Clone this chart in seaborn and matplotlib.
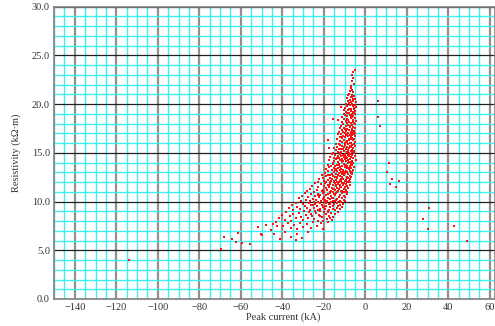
import matplotlib
matplotlib.use("Agg")
import matplotlib.pyplot as plt
from matplotlib.ticker import MultipleLocator, FormatStrFormatter
import seaborn as sns
import pandas as pd

# (peak current kA, resistivity kOhm·m)
cluster_top = [(-5.2,23.5),(-5.8,23.3),(-6.3,23.0),(-6.0,22.7),(-6.6,22.4),(-5.5,22.1),(-7.0,21.9),(-6.8,21.7),(-6.2,21.5),(-7.4,21.3),(-5.9,21.2),(-7.8,21.0),
    (-6.5,20.95),(-8.2,20.9),(-5.3,20.8),(-7.1,20.75),(-9.0,20.6),(-6.0,20.55),(-4.8,20.5),(-7.6,20.45),(-8.5,20.35),(-5.7,20.3),(-6.9,20.25),(-4.6,20.2),(-8.0,20.15),(-9.4,20.05),(-6.3,20.0),
    (-5.1,19.95),(-7.3,19.9),(-8.8,19.85),(-6.1,19.8),(-11.6,19.75),(-4.7,19.7),(-9.6,19.6),(-7.9,19.55),(-5.6,19.5),(-6.7,19.45),(-8.4,19.4),(-10.1,19.35),(-4.9,19.3),(-7.0,19.25),(-9.1,19.2),(-6.0,19.15),(-5.3,19.1),(-8.0,19.05),(-10.5,19.02),(-6.5,19.0),
    (-4.8,18.95),(-7.5,18.9),(-9.8,18.85),(-5.9,18.8),(-8.6,18.75),(-11.0,18.7),(-6.4,18.65),(-5.2,18.6),(-7.1,18.55),(-10.3,18.5),(-15.6,18.45),(-13.2,18.4),(-8.2,18.4),(-6.0,18.35),(-4.6,18.3),(-9.3,18.25),(-7.8,18.2),(-11.4,18.15),(-5.5,18.1),(-6.9,18.05),(-8.9,18.02),(-10.6,18.0),
    (-5.0,17.95),(-6.5,17.9),(-8.1,17.85),(-11.8,17.8),(-9.5,17.75),(-5.7,17.7),(-7.3,17.65),(-12.3,17.6),(-10.2,17.55),(-4.8,17.5),(-6.2,17.45),(-8.7,17.4),(-7.7,17.35),(-11.0,17.3),(-5.4,17.25),(-9.1,17.2),(-6.8,17.15),(-12.7,17.12),(-10.6,17.1),(-5.1,17.08),(-8.3,17.05),(-7.1,17.03),(-9.8,17.0),(-6.0,17.0),(-11.5,16.98),
    (-5.3,16.95),(-13.0,16.9),(-7.5,16.88),(-9.2,16.85),(-6.3,16.8),(-10.9,16.75),(-8.4,16.72),(-5.0,16.7),(-12.1,16.65),(-7.0,16.6),(-9.7,16.58),(-6.6,16.55),(-11.3,16.5),(-8.0,16.45),(-5.6,16.42),(-13.6,16.4),(-10.3,16.35),(-7.8,16.3),(-18.0,16.3),(-6.1,16.28),(-9.0,16.25),(-12.4,16.2),(-5.2,16.15),(-8.8,16.12),(-11.0,16.1),(-7.2,16.05),(-10.0,16.02),(-6.8,16.0)]

cluster_mid = [(-5.5,15.95),(-14.2,15.92),(-8.2,15.9),(-9.9,15.85),(-6.4,15.82),(-12.0,15.8),(-7.5,15.75),(-11.2,15.72),(-5.1,15.7),(-13.4,15.65),(-8.9,15.62),(-6.9,15.6),(-10.5,15.55),(-15.0,15.52),(-7.9,15.5),(-17.7,15.5),(-5.8,15.45),(-12.7,15.42),(-9.4,15.4),(-11.7,15.35),(-6.2,15.32),(-8.5,15.3),(-14.0,15.25),(-10.1,15.22),(-7.1,15.2),(-5.4,15.15),(-13.0,15.12),(-9.0,15.1),(-11.5,15.06),(-6.6,15.05),(-8.0,15.02),(-15.4,15.0),
    (-5.6,14.95),(-7.3,14.92),(-9.6,14.9),(-12.3,14.88),(-16.0,14.85),(-6.3,14.82),(-10.8,14.8),(-8.4,14.78),(-14.5,14.75),(-11.9,14.72),(-5.2,14.7),(-7.9,14.68),(-13.3,14.65),(-9.1,14.62),(-16.8,14.6),(-6.8,14.58),(-10.2,14.55),(-12.8,14.52),(-8.7,14.5),(-15.2,14.48),(-6.0,14.45),(-11.4,14.42),(-7.6,14.4),(-13.9,14.38),(-9.9,14.35),(-4.3,14.3),(-17.3,14.3),(-8.1,14.28),(-12.0,14.25),(-6.5,14.2),(-10.6,14.18),(-14.9,14.15),(-9.3,14.12),(-7.0,14.1),(-13.0,14.05),(-11.0,14.02),
    (-5.9,13.95),(-8.3,13.92),(-10.4,13.9),(-15.8,13.88),(-12.6,13.85),(-7.1,13.82),(-18.2,13.8),(-9.5,13.78),(-13.8,13.75),(-6.3,13.72),(-11.2,13.7),(-16.7,13.68),(-8.9,13.65),(-14.6,13.62),(-7.6,13.6),(-12.0,13.58),(-10.0,13.55),(-5.5,13.52),(-17.5,13.5),(-13.2,13.48),(-9.0,13.45),(-15.3,13.42),(-6.8,13.4),(-11.6,13.38),(-19.0,13.35),(-8.0,13.32),(-14.0,13.3),(-10.8,13.28),(-6.0,13.25),(-16.2,13.22),(-12.4,13.2),(-9.3,13.18),(-7.4,13.15),(-13.5,13.12),(-17.9,13.1),(-11.0,13.08),(-8.6,13.05),(-15.0,13.04),(-6.6,13.02),(-10.3,13.0),
    (-7.0,12.97),(-12.9,12.95),(-19.5,12.92),(-9.7,12.9),(-16.0,12.88),(-6.3,12.85),(-14.3,12.82),(-11.4,12.8),(-8.2,12.78),(-21.0,12.75),(-17.8,12.72),(-13.0,12.7),(-10.1,12.68),(-7.5,12.65),(-15.4,12.62),(-12.0,12.6),(-18.7,12.58),(-9.0,12.55),(-6.8,12.52),(-14.8,12.5),(-11.0,12.48),(-16.9,12.45),(-20.3,12.42),(-8.5,12.4),(-13.4,12.38),(-10.6,12.35),(-7.2,12.32),(-22.2,12.3),(-15.9,12.28),(-12.3,12.25),(-9.3,12.22),(-18.0,12.2),(-14.0,12.18),(-8.0,12.15),(-11.7,12.12),(-16.5,12.1),(-20.0,12.08),(-10.0,12.06),(-13.7,12.04),(-7.6,12.02),(-17.2,12.0),(-23.0,11.99),(-12.6,12.01),(-9.0,11.98),(-15.0,12.0)]

cluster_low = [(-8.0,11.97),(-14.6,11.95),(-19.4,11.92),(-11.1,11.9),(-24.0,11.88),(-16.8,11.85),(-9.5,11.82),(-13.1,11.8),(-21.3,11.78),(-7.6,11.75),(-18.0,11.72),(-10.7,11.7),(-15.5,11.68),(-12.2,11.65),(-25.5,11.62),(-8.8,11.6),(-20.1,11.58),(-14.0,11.55),(-17.3,11.52),(-11.5,11.5),(-22.7,11.48),(-9.9,11.45),(-16.1,11.42),(-13.4,11.4),(-8.2,11.38),(-19.0,11.35),(-26.8,11.32),(-12.6,11.3),(-15.0,11.28),(-10.3,11.25),(-23.5,11.22),(-18.4,11.2),(-14.4,11.18),(-9.2,11.15),(-21.0,11.12),(-16.6,11.1),(-11.8,11.08),(-28.0,11.05),(-13.0,11.04),(-8.6,11.03),(-19.7,11.02),(-17.2,11.01),(-10.9,11.0),(-24.6,11.0),(-15.4,10.99),
    (-9.6,10.97),(-13.8,10.95),(-20.6,10.92),(-17.0,10.9),(-29.0,10.88),(-11.3,10.85),(-23.0,10.82),(-15.1,10.8),(-9.0,10.78),(-26.0,10.75),(-18.8,10.72),(-12.4,10.7),(-21.7,10.68),(-14.7,10.65),(-30.5,10.62),(-10.2,10.6),(-16.4,10.58),(-24.3,10.55),(-19.8,10.52),(-12.9,10.5),(-27.5,10.48),(-9.8,10.45),(-22.3,10.42),(-15.8,10.4),(-17.9,10.38),(-11.0,10.35),(-32.0,10.32),(-25.0,10.3),(-13.5,10.28),(-20.2,10.25),(-16.9,10.22),(-10.5,10.2),(-28.4,10.18),(-23.6,10.15),(-14.2,10.12),(-18.5,10.1),(-12.0,10.08),(-26.7,10.06),(-21.2,10.04),(-31.0,10.03),(-15.5,10.02),(-10.0,10.01),(-19.2,10.0),(-24.8,10.0),(-13.0,9.99),
    (-11.5,9.97),(-16.3,9.95),(-22.6,9.92),(-33.5,9.9),(-19.0,9.88),(-13.6,9.85),(-27.2,9.82),(-10.8,9.8),(-24.4,9.78),(-17.6,9.75),(-30.0,9.72),(-14.9,9.7),(-21.0,9.68),(-35.5,9.65),(-12.4,9.62),(-26.0,9.6),(-18.8,9.58),(-15.6,9.55),(-29.2,9.52),(-23.3,9.5),(-11.2,9.48),(-20.4,9.45),(-33.0,9.42),(-16.8,9.4),(-27.9,9.38),(-13.8,9.35),(-24.9,9.32),(-37.0,9.3),(-19.6,9.28),(-12.0,9.25),(-22.0,9.22),(-31.4,9.2),(-17.3,9.18),(-26.5,9.15),(-14.4,9.12),(-35.0,9.1),(-21.6,9.08),(-29.6,9.05),(-18.2,9.03),(-24.0,9.0),
    (-13.0,8.97),(-20.0,8.95),(-27.0,8.9),(-38.0,8.88),(-16.5,8.85),(-31.8,8.82),(-23.8,8.8),(-14.6,8.75),(-34.8,8.72),(-19.0,8.7),(-28.6,8.65),(-40.0,8.62),(-22.2,8.6),(-17.4,8.55),(-36.3,8.52),(-25.8,8.5),(-30.8,8.45),(-15.5,8.42),(-21.0,8.38),(-33.2,8.35),(-41.5,8.3),(-27.8,8.28),(-18.6,8.25),(-24.6,8.2),(-38.8,8.15),(-16.0,8.12),(-30.0,8.1),(-22.8,8.05),(-35.6,8.03),(-20.2,8.0)]

cluster_core = [(-6.2,20.7),(-7.7,20.1),(-5.4,19.6),(-8.6,19.1),(-6.8,18.8),(-9.0,18.5),(-5.8,18.2),(-7.6,17.8),(-10.0,17.4),(-6.3,17.2),(-8.8,16.9),(-11.8,16.6),(-6.9,16.4),(-9.4,16.1),(-12.8,15.9),(-7.3,15.7),(-10.8,15.4),(-8.3,15.15),(-12.2,15.0),
    (-6.9,14.85),(-9.8,14.65),(-13.6,14.45),(-11.1,14.25),(-8.0,14.05),(-15.6,14.0),(-12.9,13.8),(-9.9,13.62),(-7.8,13.42),(-14.6,13.22),(-11.8,13.05),(-10.4,12.85),(-16.8,12.7),(-13.8,12.55),(-8.8,12.4),(-11.9,12.3),(-15.2,12.15),(-18.9,12.05),
    (-10.4,11.9),(-13.9,11.75),(-17.6,11.6),(-12.0,11.45),(-15.8,11.3),(-20.5,11.2),(-11.4,11.1),(-14.1,10.9),(-18.0,10.75),(-22.8,10.65),(-12.6,10.5),(-16.2,10.35),(-19.6,10.2),(-14.8,10.05),(-21.8,9.9),(-17.0,9.8),(-25.3,9.6),(-13.2,9.55),(-20.0,9.4),(-15.8,9.25),(-23.0,9.1),(-18.0,8.9),(-26.0,8.75),(-21.6,8.5),(-17.0,8.3)]

cluster_tail = [(-18.0,7.95),(-25.0,7.92),(-42.9,7.9),(-31.5,7.85),(-37.4,7.8),(-21.5,7.75),(-28.3,7.7),(-44.5,7.65),(-34.2,7.6),(-47.7,7.55),(-23.4,7.5),(-39.8,7.45),(-42.6,7.45),(-29.8,7.4),(-51.7,7.4),(-26.2,7.3),(-36.0,7.25),(-20.6,7.2),(-32.8,7.15),(-45.6,7.05),
    (-27.7,6.9),(-38.6,6.85),(-61.4,6.8),(-33.0,6.7),(-50.1,6.7),(-44.0,6.65),(-50.0,6.55),(-35.7,6.4),(-68.2,6.4),(-30.6,6.3),(-64.0,6.2),(-41.0,6.2),(-33.3,6.1),(-62.5,5.9),(-59.2,5.7),(-55.4,5.6),
    (-69.7,5.1),(-114.1,4.0)]

positive = [(6.0,20.3),(6.0,18.7),(7.1,17.8),(11.6,14.0),(10.3,13.0),(12.9,12.3),(16.1,12.1),(11.8,11.8),(15.0,11.5),(30.9,9.3),(28.0,8.2),(30.0,7.2),(42.7,7.5),(48.8,6.0)]

all_pts = cluster_top + cluster_mid + cluster_low + cluster_core + cluster_tail + positive
peak_current = [p[0] for p in all_pts]
resistivity = [p[1] for p in all_pts]
df = pd.DataFrame({"Peak current (kA)": peak_current, "Resistivity": resistivity})

sns.set_style("white")
plt.rcParams["font.family"] = ["Liberation Serif", "DejaVu Serif"]

fig = plt.figure(figsize=(4.95, 3.26), dpi=100)
ax = fig.add_axes([54/495, 1-299/326, 1-54/495, (299-6.7)/326])

ax.set_xlim(-150, 62.5)
ax.set_ylim(0, 30)
ax.xaxis.set_major_locator(MultipleLocator(20))
ax.xaxis.set_minor_locator(MultipleLocator(5))
ax.yaxis.set_major_locator(MultipleLocator(5))
ax.yaxis.set_minor_locator(MultipleLocator(1))
ax.yaxis.set_major_formatter(FormatStrFormatter("%.1f"))

ax.set_axisbelow(True)
ax.grid(which="minor", color="#40eeee", lw=1.0)
ax.xaxis.grid(which="major", color="#909090", lw=1.6)
ax.yaxis.grid(which="major", color="#222222", lw=0.9)

sns.scatterplot(data=df, x="Peak current (kA)", y="Resistivity", ax=ax,
                color="#ff1010", marker="s", s=4.6, linewidth=0, zorder=3)

for s in ax.spines.values():
    s.set_color("#808080")
    s.set_linewidth(1.2)

ax.tick_params(axis="both", which="both", length=0, labelsize=7.5, labelcolor="#333333")
ax.tick_params(axis="x", pad=3)
ax.tick_params(axis="y", pad=3)
ax.set_xlabel("Peak current (kA)", fontsize=7.5, color="#333333")
ax.set_ylabel("Resistivity (k\u03a9\u00b7m)", fontsize=7.5, color="#333333", labelpad=8)
ax.xaxis.set_label_coords((283-54)/(495-54), -0.045)

fig.savefig("out.png", dpi=100)
